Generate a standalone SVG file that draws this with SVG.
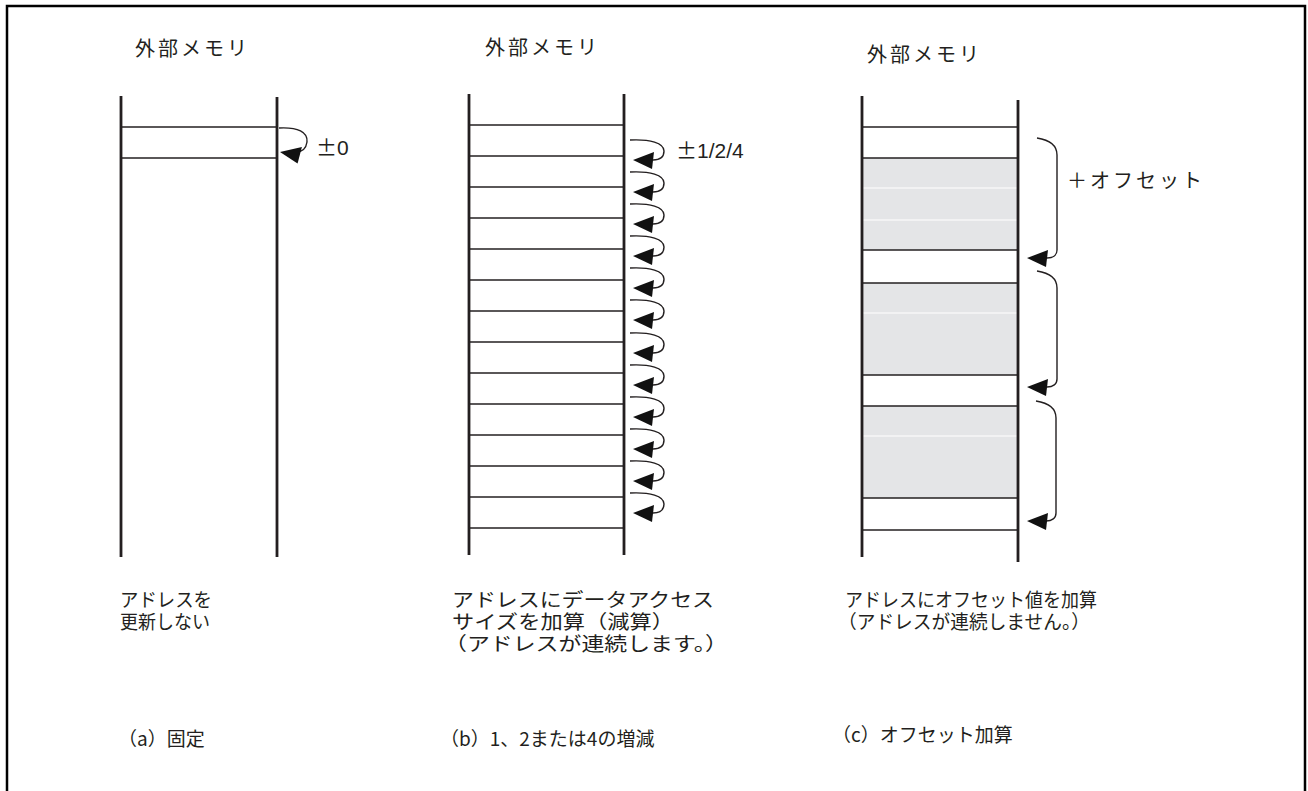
<svg xmlns="http://www.w3.org/2000/svg" xmlns:xlink="http://www.w3.org/1999/xlink" width="1308" height="791" viewBox="0 0 1308 791">
<style>
.frame{fill:none;stroke:#000;stroke-width:2.5}
.vl{stroke:#231f20;stroke-width:2.8}
.hl{stroke:#231f20;stroke-width:1.5}
.wl{stroke:#fff;stroke-width:1.2}
.cv{fill:none;stroke:#231f20;stroke-width:1.4}
.ah{fill:#111}
.shade{fill:#e4e5e7}
.t{font-family:"Noto Sans CJK JP","Noto Sans",sans-serif;font-size:19px;fill:#231f20}
.title{font-size:20px;letter-spacing:3px}
.num{font-family:"Liberation Sans",Arial,sans-serif;font-size:21px;fill:#231f20}
</style>
<defs>
<path id="ah" d="M0,0 L21,-8 L19,9 Z"/>
</defs>
<rect width="1308" height="791" fill="#fff"/>
<path class="frame" d="M7,791 V6 H1305 V791"/>

<g id="panel-a">
<text class="t title" x="135" y="56">外部メモリ</text>
<line class="vl" x1="121" y1="96" x2="121" y2="557"/>
<line class="vl" x1="277" y1="97" x2="277" y2="557"/>
<line class="hl" x1="122" y1="127" x2="277" y2="127"/>
<line class="hl" x1="122" y1="158" x2="277" y2="158"/>
<text class="num" x="316" y="155"><tspan font-family="Noto Sans CJK JP">±</tspan>0</text>
<text class="t" x="120" y="607" textLength="92" lengthAdjust="spacingAndGlyphs">アドレスを</text>
<text class="t" x="120" y="629" textLength="90" lengthAdjust="spacingAndGlyphs">更新しない</text>
<text class="t" x="118" y="746">（a）固定</text>
</g>

<g id="panel-b">
<text class="t title" x="485" y="55">外部メモリ</text>
<line class="vl" x1="469" y1="94" x2="469" y2="555"/>
<line class="vl" x1="624" y1="94" x2="624" y2="555"/>
<g class="hl">
<line x1="470" y1="125" x2="624" y2="125"/>
<line x1="470" y1="156" x2="624" y2="156"/>
<line x1="470" y1="187" x2="624" y2="187"/>
<line x1="470" y1="218" x2="624" y2="218"/>
<line x1="470" y1="249" x2="624" y2="249"/>
<line x1="470" y1="280" x2="624" y2="280"/>
<line x1="470" y1="311" x2="624" y2="311"/>
<line x1="470" y1="342" x2="624" y2="342"/>
<line x1="470" y1="373" x2="624" y2="373"/>
<line x1="470" y1="404" x2="624" y2="404"/>
<line x1="470" y1="435" x2="624" y2="435"/>
<line x1="470" y1="466" x2="624" y2="466"/>
<line x1="470" y1="497" x2="624" y2="497"/>
<line x1="470" y1="528" x2="624" y2="528"/>
</g>
<text class="num" x="676" y="158"><tspan font-family="Noto Sans CJK JP">±</tspan>1/2/4</text>
<text class="t" x="452" y="607" textLength="262" lengthAdjust="spacingAndGlyphs">アドレスにデータアクセス</text>
<text class="t" x="452" y="629" textLength="222" lengthAdjust="spacingAndGlyphs">サイズを加算（減算）</text>
<text class="t" x="444" y="651" textLength="284" lengthAdjust="spacingAndGlyphs">（アドレスが連続します。）</text>
<text class="t" x="440" y="746">（b）1、2または4の増減</text>
</g>

<g id="panel-c">
<text class="t title" x="867" y="62">外部メモリ</text>
<rect class="shade" x="863" y="158" width="154" height="92"/>
<rect class="shade" x="863" y="283" width="154" height="92"/>
<rect class="shade" x="863" y="406" width="154" height="92"/>
<line class="wl" x1="863" y1="188" x2="1017" y2="188"/>
<line class="wl" x1="863" y1="220" x2="1017" y2="220"/>
<line class="wl" x1="863" y1="313" x2="1017" y2="313"/>
<line class="wl" x1="863" y1="436" x2="1017" y2="436"/>
<line class="vl" x1="862" y1="96" x2="862" y2="557"/>
<line class="vl" x1="1018" y1="100" x2="1018" y2="562"/>
<g class="hl">
<line x1="863" y1="127" x2="1018" y2="127"/>
<line x1="863" y1="158" x2="1018" y2="158"/>
<line x1="863" y1="250" x2="1018" y2="250"/>
<line x1="863" y1="283" x2="1018" y2="283"/>
<line x1="863" y1="375" x2="1018" y2="375"/>
<line x1="863" y1="406" x2="1018" y2="406"/>
<line x1="863" y1="498" x2="1018" y2="498"/>
<line x1="863" y1="530" x2="1018" y2="530"/>
</g>
<text class="t" x="1067" y="188" style="font-size:20px;letter-spacing:3px">＋オフセット</text>
<text class="t" x="845" y="607" textLength="252" lengthAdjust="spacingAndGlyphs">アドレスにオフセット値を加算</text>
<text class="t" x="838" y="629" textLength="252" lengthAdjust="spacingAndGlyphs">（アドレスが連続しません。）</text>
<text class="t" x="832" y="742">（c）オフセット加算</text>
</g>

<g id="connectors">
<path class="cv" d="M279,128 C298,127 308,132 307,142 C306,149 302,152 296,152"/>
<use href="#ah" class="ah" x="280" y="152" transform="rotate(8 280 152)"/>
<g id="b-arrows">
<path class="cv" d="M630,140 C650,139 664,143 664,151 C664,157 660,160 653,160"/><use href="#ah" class="ah" x="633" y="160"/>
<path class="cv" d="M630,172 C650,171 664,175 664,183 C664,189 660,192 653,192"/><use href="#ah" class="ah" x="633" y="192"/>
<path class="cv" d="M630,204 C650,203 664,207 664,215 C664,221 660,224 653,224"/><use href="#ah" class="ah" x="633" y="224"/>
<path class="cv" d="M630,236 C650,235 664,239 664,247 C664,253 660,256 653,256"/><use href="#ah" class="ah" x="633" y="256"/>
<path class="cv" d="M630,268 C650,267 664,271 664,279 C664,285 660,288 653,288"/><use href="#ah" class="ah" x="633" y="288"/>
<path class="cv" d="M630,300 C650,299 664,303 664,311 C664,317 660,320 653,320"/><use href="#ah" class="ah" x="633" y="320"/>
<path class="cv" d="M630,333 C650,332 664,336 664,344 C664,350 660,353 653,353"/><use href="#ah" class="ah" x="633" y="353"/>
<path class="cv" d="M630,365 C650,364 664,368 664,376 C664,382 660,385 653,385"/><use href="#ah" class="ah" x="633" y="385"/>
<path class="cv" d="M630,397 C650,396 664,400 664,408 C664,414 660,417 653,417"/><use href="#ah" class="ah" x="633" y="417"/>
<path class="cv" d="M630,429 C650,428 664,432 664,440 C664,446 660,449 653,449"/><use href="#ah" class="ah" x="633" y="449"/>
<path class="cv" d="M630,461 C650,460 664,464 664,472 C664,478 660,481 653,481"/><use href="#ah" class="ah" x="633" y="481"/>
<path class="cv" d="M630,493 C650,492 664,496 664,504 C664,510 660,513 653,513"/><use href="#ah" class="ah" x="633" y="513"/>
</g>
<g id="c-braces">
<path class="cv" d="M1037,138 C1050,140 1057,145 1057,155 V250 C1057,255 1053,258 1047,258"/><use href="#ah" class="ah" x="1027" y="258"/>
<path class="cv" d="M1037,271 C1050,273 1057,278 1057,288 V379 C1057,384 1053,387 1047,387"/><use href="#ah" class="ah" x="1027" y="387"/>
<path class="cv" d="M1036,401 C1049,403 1056,408 1056,418 V513 C1056,518 1052,521 1046,521"/><use href="#ah" class="ah" x="1027" y="521"/>
</g>
</g>
</svg>
